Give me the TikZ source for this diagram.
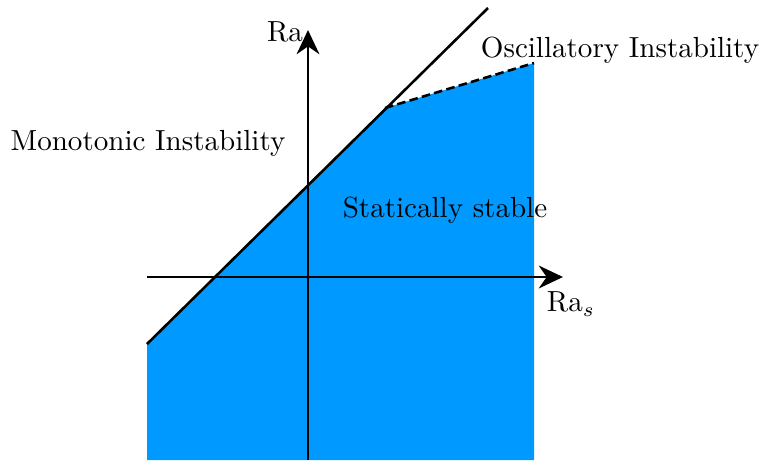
\documentclass[tikz,border=0pt]{standalone}
\usetikzlibrary{arrows.meta}
\definecolor{stableblue}{RGB}{0,153,255}
\begin{document}
\begin{tikzpicture}[x=0.351pt,y=-0.351pt,
  axis/.style={line width=0.9pt,-{Stealth[length=8.5pt,width=8pt]}},
  bound/.style={line width=0.9pt},
  lbl/.style={inner sep=0pt,font=\fontsize{10.2}{12}\selectfont}]
\useasboundingbox (0,0) rectangle (761,460);
% region
\coordinate (bl) at (147,460);
\coordinate (lb) at (147,344);
\coordinate (kink) at (385,108);
\coordinate (tr) at (534,63);
\coordinate (br) at (534,460);
\coordinate (lineend) at (488,8);
\fill[stableblue] (bl) -- (lb) -- (kink) -- (tr) -- (br) -- cycle;
\draw[bound] (lb) -- (lineend);
\draw[line width=0.9pt,dashed,dash pattern=on 3pt off 1.5pt] (kink) -- (tr);
% axes
\coordinate (xs) at (147,277);
\coordinate (xe) at (563,277);
\coordinate (ys) at (308,460);
\coordinate (ye) at (308,30);
\draw[axis] (xs) -- (xe);
\draw[axis] (ys) -- (ye);
% labels
\node[lbl] (ra) at (285,32) {Ra};
\node[lbl] (ras) at (571,304) {Ra$_s$};
\node[lbl] (osc) at (620,50) {Oscillatory Instability};
\node[lbl] (mono) at (148,143) {Monotonic Instability};
\node[lbl] (stab) at (445,210) {Statically stable};
\end{tikzpicture}
\end{document}
